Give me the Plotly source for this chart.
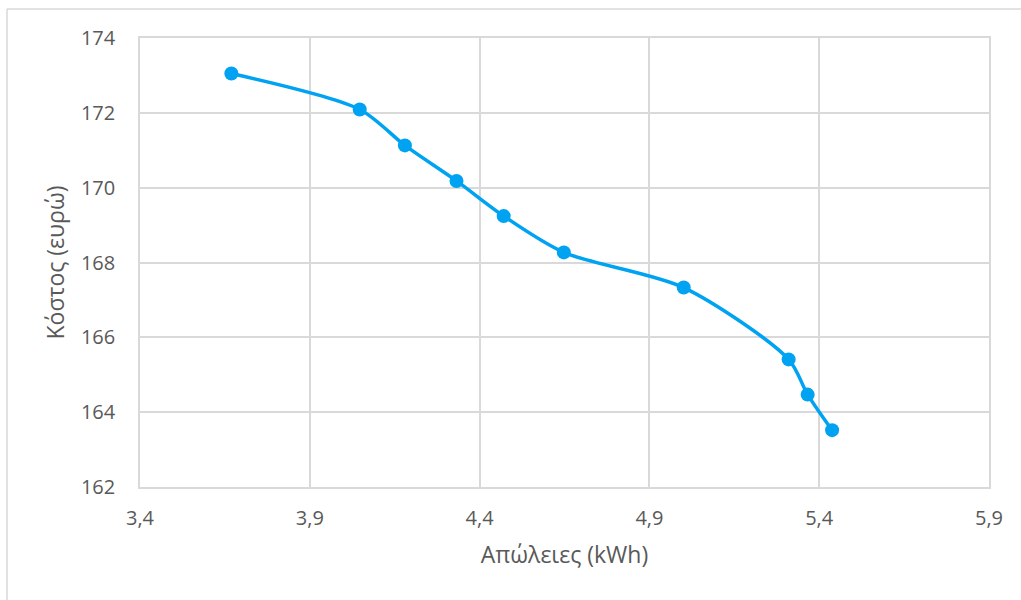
import plotly.graph_objects as go

# Losses (kWh) vs cost (euro)
losses = [3.669, 4.047, 4.180, 4.332, 4.471, 4.648, 5.001, 5.310, 5.366, 5.438]
cost = [173.05, 172.09, 171.13, 170.18, 169.24, 168.27, 167.33, 165.41, 164.47, 163.52]

x_ticks = [3.4, 3.9, 4.4, 4.9, 5.4, 5.9]
y_ticks = [162, 164, 166, 168, 170, 172, 174]

LINE_COLOR = "#00A2F2"
GRID = "#D9D9D9"
TEXT = "#595959"
FONT = "Open Sans"

fig = go.Figure(
    go.Scatter(
        x=losses,
        y=cost,
        mode="lines+markers",
        line=dict(color=LINE_COLOR, width=3.5, shape="spline", smoothing=0.8),
        marker=dict(color=LINE_COLOR, size=14),
        showlegend=False,
    )
)

fig.update_layout(
    width=1021,
    height=600,
    margin=dict(l=140, r=32, t=38, b=113),
    paper_bgcolor="white",
    plot_bgcolor="white",
    separators=", ",
    font=dict(family=FONT, size=20, color=TEXT),
    shapes=[
        # outer chart frame (left and top edges)
        dict(type="line", xref="paper", yref="paper",
             x0=(7 - 140) / 849, x1=(7 - 140) / 849, y0=-0.5, y1=(487 - 9) / 449,
             line=dict(color=GRID, width=1.5)),
        dict(type="line", xref="paper", yref="paper",
             x0=(7 - 140) / 849, x1=(1030 - 140) / 849, y0=(487 - 9) / 449, y1=(487 - 9) / 449,
             line=dict(color=GRID, width=1.5)),
    ],
)

fig.update_xaxes(
    range=[3.4, 5.9],
    tickvals=x_ticks,
    tickformat=".1f",
    showgrid=True,
    gridcolor=GRID,
    gridwidth=1.5,
    showline=True,
    linecolor=GRID,
    linewidth=1.5,
    mirror=True,
    zeroline=False,
    ticks="",
    ticklabelstandoff=12,
    tickfont=dict(size=20, color=TEXT),
    title=dict(text="Απώλειες (kWh)", font=dict(size=23, color=TEXT), standoff=17),
)

fig.update_yaxes(
    range=[162, 174],
    tickvals=y_ticks,
    showgrid=True,
    gridcolor=GRID,
    gridwidth=1.5,
    showline=True,
    linecolor=GRID,
    linewidth=1.5,
    mirror=True,
    zeroline=False,
    ticks="",
    ticklabelstandoff=19,
    tickfont=dict(size=20, color=TEXT),
    title=dict(text="Κόστος (ευρώ)", font=dict(size=23, color=TEXT), standoff=10),
)

fig.write_html("out.html")
